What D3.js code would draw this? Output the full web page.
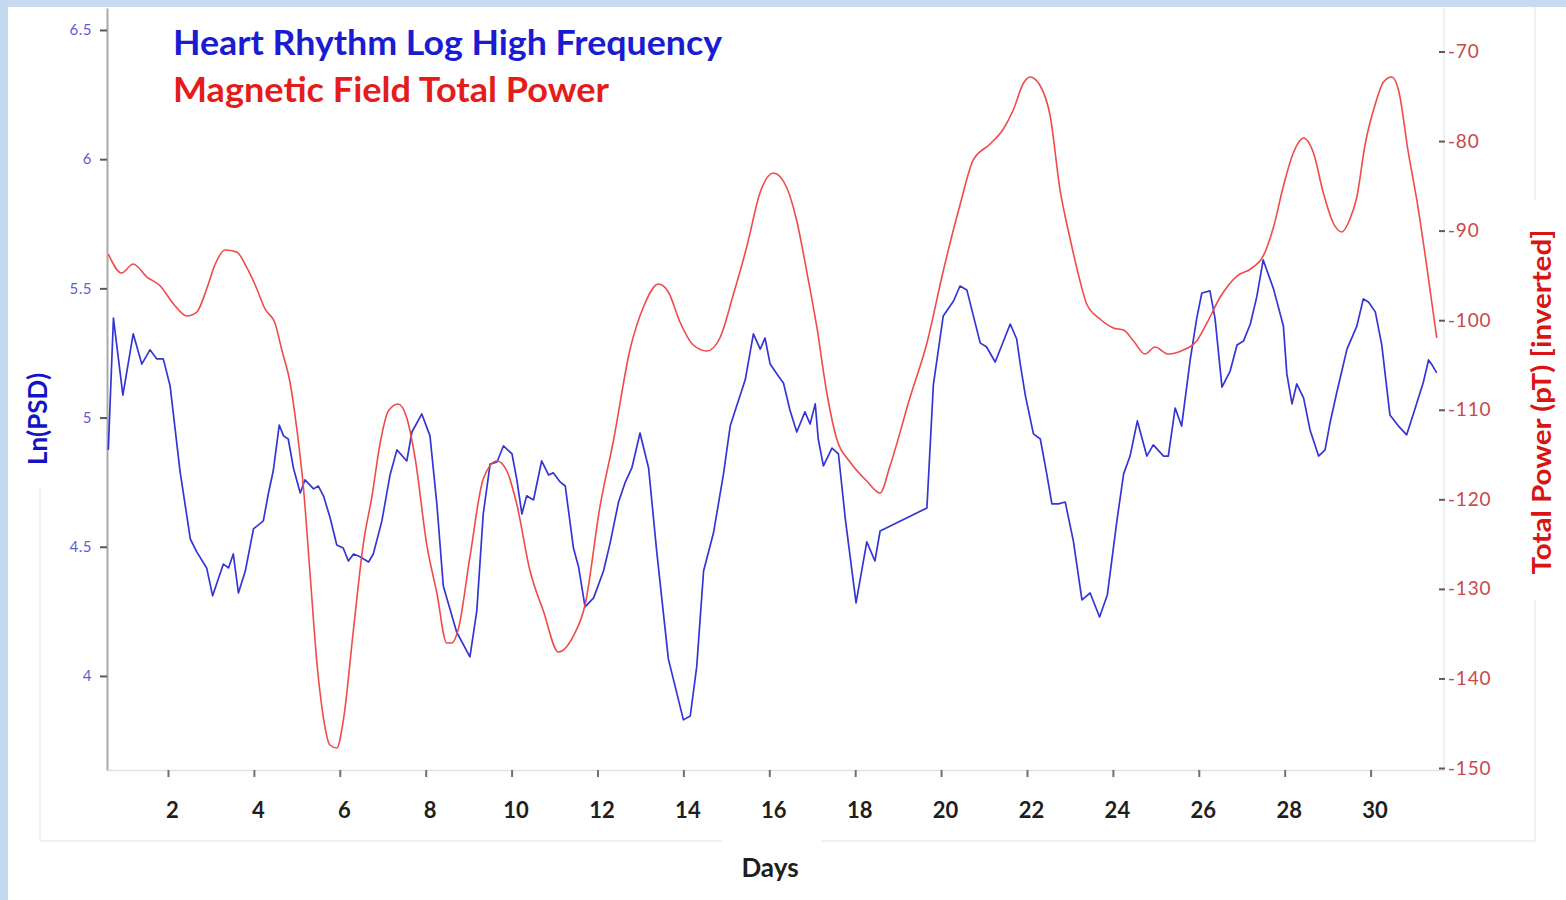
<!DOCTYPE html>
<html><head><meta charset="utf-8">
<script src="https://cdn.jsdelivr.net/npm/d3@7"></script>
<style>html,body{margin:0;padding:0;background:#fff;overflow:hidden}</style>
</head><body>
<svg id="chart" width="1566" height="900"></svg>
<script>
// ---------- data ----------
const blueDays = [0.61,0.73,0.95,1.19,1.39,1.58,1.74,1.89,2.05,2.28,
2.52,2.67,2.90,3.04,3.17,3.29,3.41,3.52,3.64,3.80,
3.99,4.22,4.34,4.45,4.59,4.69,4.80,4.92,5.08,5.19,
5.39,5.50,5.62,5.77,5.93,6.08,6.20,6.32,6.47,6.67,
6.78,6.98,7.17,7.33,7.56,7.68,7.91,8.10,8.26,8.41,
8.72,9.03,9.19,9.34,9.50,9.66,9.81,10.01,10.12,10.24,
10.35,10.51,10.70,10.86,10.97,11.13,11.25,11.44,11.56,11.71,
11.91,12.14,12.29,12.49,12.64,12.80,12.99,13.19,13.38,13.65,
14.00,14.16,14.31,14.47,14.70,14.93,15.09,15.24,15.44,15.63,
15.79,15.90,16.02,16.21,16.33,16.48,16.64,16.83,16.95,17.07,
17.14,17.26,17.46,17.61,17.77,18.02,18.27,18.46,18.58,19.67,
19.82,20.05,20.29,20.44,20.60,20.91,21.06,21.26,21.61,21.76,
21.84,21.96,22.15,22.31,22.46,22.58,22.73,22.89,23.08,23.28,
23.47,23.69,23.87,24.09,24.25,24.40,24.57,24.79,24.94,25.18,
25.29,25.45,25.60,25.80,25.95,26.07,26.26,26.38,26.54,26.73,
26.89,27.04,27.20,27.35,27.50,27.74,27.97,28.05,28.17,28.28,
28.44,28.59,28.79,28.94,29.06,29.21,29.45,29.68,29.83,29.95,
30.11,30.26,30.45,30.65,30.84,31.04,31.23,31.35,31.43,31.54];
const blueValues = [4.875,5.385,5.087,5.324,5.207,5.262,5.227,5.227,5.122,4.793,
4.530,4.480,4.418,4.310,4.375,4.433,4.418,4.472,4.321,4.406,
4.569,4.600,4.708,4.793,4.971,4.929,4.917,4.805,4.708,4.759,
4.724,4.735,4.697,4.615,4.507,4.495,4.445,4.472,4.461,4.441,
4.472,4.600,4.778,4.875,4.832,4.944,5.014,4.929,4.666,4.348,
4.170,4.074,4.252,4.627,4.820,4.828,4.890,4.859,4.762,4.627,
4.697,4.681,4.832,4.778,4.786,4.751,4.735,4.495,4.422,4.267,
4.302,4.406,4.511,4.673,4.747,4.805,4.940,4.805,4.480,4.066,
3.830,3.845,4.035,4.406,4.553,4.778,4.967,5.045,5.146,5.324,
5.265,5.308,5.207,5.161,5.134,5.029,4.944,5.022,4.975,5.053,
4.917,4.813,4.882,4.859,4.608,4.283,4.519,4.445,4.561,4.650,
5.126,5.393,5.451,5.509,5.494,5.289,5.273,5.215,5.362,5.304,
5.211,5.087,4.937,4.917,4.782,4.666,4.666,4.673,4.522,4.294,
4.321,4.228,4.313,4.596,4.782,4.851,4.987,4.851,4.894,4.851,
4.851,5.037,4.967,5.223,5.382,5.482,5.490,5.382,5.118,5.180,
5.281,5.296,5.362,5.467,5.610,5.498,5.354,5.169,5.053,5.130,
5.076,4.952,4.851,4.875,4.983,5.095,5.265,5.354,5.459,5.447,
5.409,5.281,5.010,4.967,4.933,5.037,5.138,5.223,5.204,5.173];

const redDays = [0.61,0.92,1.19,1.51,1.82,2.13,2.44,2.67,2.90,3.10,
3.33,3.60,3.84,4.07,4.26,4.49,4.65,4.84,5.00,5.15,
5.31,5.47,5.62,5.77,5.93,6.08,6.32,6.55,6.75,6.94,
7.13,7.36,7.56,7.75,8.03,8.26,8.49,8.61,8.76,9.03,
9.34,9.66,9.89,10.12,10.43,10.74,11.09,11.44,11.71,12.06,
12.37,12.76,13.07,13.42,13.65,13.92,14.23,14.55,14.85,15.16,
15.48,15.79,16.10,16.41,16.64,16.87,17.11,17.34,17.57,17.88,
18.27,18.58,18.81,19.28,19.67,20.05,20.44,20.75,21.14,21.45,
21.68,21.92,22.07,22.31,22.54,22.77,23.00,23.20,23.39,23.70,
24.01,24.25,24.48,24.75,24.98,25.29,25.64,25.95,26.19,26.50,
26.89,27.20,27.50,27.74,27.97,28.20,28.44,28.67,28.90,29.13,
29.33,29.52,29.68,29.87,30.11,30.30,30.49,30.65,30.88,31.08,
31.31,31.54];
const redValues = [-92.61,-94.73,-93.73,-95.18,-96.18,-98.19,-99.53,-99.09,-96.52,-93.73,
-92.16,-92.39,-94.17,-96.52,-98.75,-100.31,-103.33,-106.90,-112.15,-118.51,
-128.45,-138.39,-144.42,-147.43,-147.77,-144.75,-134.48,-124.88,-119.63,-113.71,
-110.14,-109.36,-110.92,-115.28,-125.21,-130.46,-136.05,-136.05,-134.48,-126.44,
-117.73,-115.72,-116.84,-120.53,-128.01,-132.47,-137.05,-135.26,-131.80,-120.75,
-113.49,-103.22,-98.53,-95.96,-96.85,-100.20,-102.77,-103.44,-101.99,-97.19,
-91.72,-85.69,-83.57,-85.24,-88.93,-94.51,-100.87,-108.13,-113.27,-115.84,
-117.96,-119.30,-116.28,-108.58,-102.55,-94.51,-87.14,-82.11,-80.33,-78.65,
-76.53,-73.52,-72.85,-73.85,-77.20,-85.46,-90.82,-94.96,-98.19,-99.87,
-100.87,-101.10,-102.32,-103.78,-102.99,-103.78,-103.33,-102.32,-100.31,-97.41,
-95.07,-94.29,-92.83,-89.60,-85.02,-81.33,-79.66,-81.33,-85.80,-89.15,
-90.15,-88.70,-86.25,-80.44,-75.86,-73.41,-72.85,-74.30,-81.33,-86.69,
-94.06,-101.99];

const xTicks = [2,4,6,8,10,12,14,16,18,20,22,24,26,28,30];
const leftTicks = [4,4.5,5,5.5,6,6.5];
const rightTicks = [-70,-80,-90,-100,-110,-120,-130,-140,-150];
const legendLabels = ["Heart Rhythm Log High Frequency","Magnetic Field Total Power"];
const xTitle = "Days";
const leftTitle = "Ln(PSD)";
const rightTitle = "Total Power (pT) [inverted]";

// ---------- drawing ----------
const svg = d3.select("#chart");
const FONT = "Lato, 'Open Sans', sans-serif";

svg.append("rect").attr("x",0).attr("y",0).attr("width",1566).attr("height",900).attr("fill","#ffffff");
svg.append("rect").attr("x",0).attr("y",0).attr("width",1566).attr("height",7).attr("fill","#c6dbf1");
svg.append("rect").attr("x",0).attr("y",0).attr("width",8).attr("height",900).attr("fill","#c2d8ef");

// faint frame lines
const faint = [[40,841,722,841],[821,841,1535,841],[40,487,40,841],[1535,7,1535,200],[1535,600,1535,841]];
svg.selectAll("line.faint").data(faint).enter().append("line").attr("class","faint")
  .attr("x1",d=>d[0]).attr("y1",d=>d[1]).attr("x2",d=>d[2]).attr("y2",d=>d[3])
  .attr("stroke","#ebebeb").attr("stroke-width",1.5);

const x = d3.scaleLinear().domain([0.58, 31.7]).range([107, 107 + 42.95*(31.7-0.58)]);
const yL = d3.scaleLinear().domain([3.636, 6.585]).range([770, 8]);
const yR = d3.scaleLinear().domain([-150, -70]).range([768, 51.5]);

// right axis faint line
svg.append("line").attr("x1",1444).attr("x2",1444).attr("y1",8).attr("y2",770)
  .attr("stroke","#ececec").attr("stroke-width",1.5);

// bottom axis
const gx = svg.append("g").attr("transform","translate(0,770)")
  .call(d3.axisBottom(x).tickValues(xTicks).tickSize(7).tickSizeOuter(0).tickFormat(d=>String(d)));
gx.select(".domain").attr("stroke","#e2e2e2").attr("stroke-width",1.5);
gx.selectAll(".tick line").attr("stroke","#707070").attr("stroke-width",2);
gx.selectAll(".tick text").attr("y",48).attr("dy",0).attr("x",4)
  .attr("fill","#1e1e1e").style("font-family",FONT).style("font-size","22px").style("font-weight","700");

// left axis
const gl = svg.append("g").attr("transform","translate(107,0)")
  .call(d3.axisLeft(yL).tickValues(leftTicks).tickSize(7).tickSizeOuter(0).tickPadding(8).tickFormat(d=>String(d)));
gl.select(".domain").attr("stroke","#a9a9a9").attr("stroke-width",2);
gl.selectAll(".tick line").attr("stroke","#5a5a5a").attr("stroke-width",2);
gl.selectAll(".tick text").attr("fill","#5d5dd4").style("font-family",FONT).style("font-size","15px").style("letter-spacing","0.5px");

// right axis
const gr = svg.append("g").attr("transform","translate(1439,0)")
  .call(d3.axisRight(yR).tickValues(rightTicks).tickSize(6).tickSizeOuter(0).tickPadding(3).tickFormat(d=>String(d)));
gr.select(".domain").remove();
gr.selectAll(".tick line").attr("stroke","#5a5a5a").attr("stroke-width",2);
gr.selectAll(".tick text").attr("fill","#c84a4a").style("font-family",FONT).style("font-size","19px").style("letter-spacing","0.8px");

// series
const blue = d3.zip(blueDays, blueValues);
const red = d3.zip(redDays, redValues);
const blueLine = d3.line().x(d=>x(d[0])).y(d=>yL(d[1]));
const redLine = d3.line().x(d=>x(d[0])).y(d=>yR(d[1])).curve(d3.curveMonotoneX);

svg.append("path").datum(blue).attr("d",blueLine).attr("fill","none")
  .attr("stroke","#3535d6").attr("stroke-width",1.7).attr("stroke-linejoin","round");
svg.append("path").datum(red).attr("d",redLine).attr("fill","none")
  .attr("stroke","#f04a4a").attr("stroke-width",1.6).attr("stroke-linejoin","round");

// legend texts
const legendColors = ["#1b1bd2","#e51c1c"];
const legendWidths = [549, 436];
svg.selectAll("text.legend").data(legendLabels).enter().append("text").attr("class","legend")
  .attr("x",173).attr("y",(d,i)=>55 + i*47)
  .attr("fill",(d,i)=>legendColors[i])
  .attr("textLength",(d,i)=>legendWidths[i]).attr("lengthAdjust","spacingAndGlyphs")
  .style("font-family",FONT).style("font-size","35px").style("font-weight","700")
  .text(d=>d);

// axis titles
svg.append("text").attr("x",770).attr("y",877).attr("text-anchor","middle")
  .attr("fill","#1e1e1e").style("font-family",FONT).style("font-size","26px").style("font-weight","700")
  .text(xTitle);
svg.append("text").attr("transform","translate(47,419) rotate(-90)").attr("text-anchor","middle")
  .attr("fill","#1414c4").style("font-family",FONT).style("font-size","26px").style("font-weight","700")
  .text(leftTitle);
svg.append("text").attr("transform","translate(1551,402) rotate(-90)").attr("text-anchor","middle")
  .attr("fill","#d81414").attr("textLength",345).attr("lengthAdjust","spacingAndGlyphs")
  .style("font-family",FONT).style("font-size","27px").style("font-weight","700")
  .text(rightTitle);
</script>
</body></html>
